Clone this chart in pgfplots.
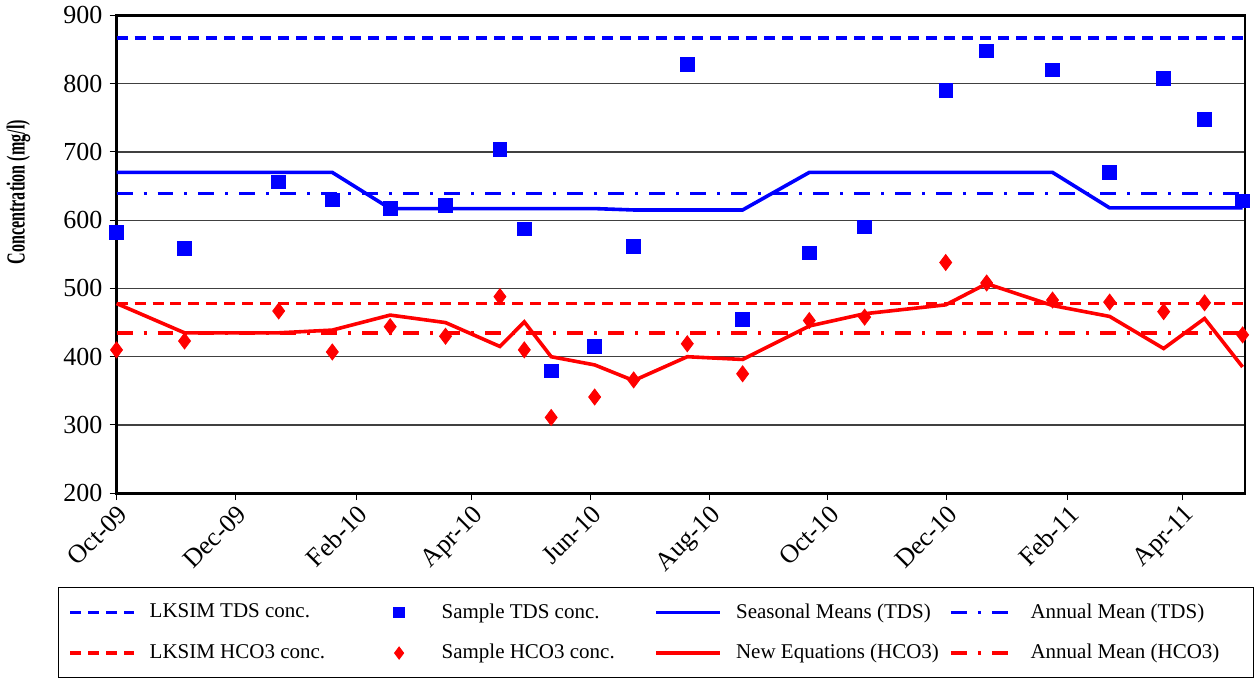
\documentclass[border=0pt]{standalone}
\usepackage{fontspec}
\setmainfont{Liberation Serif}
\usepackage{graphicx}
\usepackage{pgfplots}
\usepackage{pgfplotstable}
\pgfplotsset{compat=1.18}

% d = days since 1 Oct 2009
\pgfplotstableread{
d     tds hco3 seas neweq
0     582 410  670  478
34.9  559 423  670  435
83.2  656 467  670  435
110.7 630 407  670  439
140.4 617 444  617  461
168.8 622 430  617  450
196.7 704 488  617  415
209.2 587 410  617  451
223.0 379 311  617  400
245.3 415 341  617  388
265.3 562 366  615  365
292.8 828 419  615  400
321.2 455 375  615  396
355.4 552 453  670  445
383.8 590 458  670  463
425.4 790 538  670  476
446.4 848 508  670  507
480.2 820 483  670  475
509.5 670 480  618  459
537.2 808 466  618  412
558.2 748 479  618  456
577.7 628 432  618  385
}\samples

\definecolor{xlblue}{RGB}{0,0,255}
\definecolor{xlred}{RGB}{255,0,0}

\pgfplotsset{
    lineleg/.style={legend image code/.code={\draw[##1] (0pt,0pt) -- (32pt,0pt);}},
    markleg/.style={legend image code/.code={\path (0pt,0pt) (32pt,0pt); \path[##1, mark size=#1] plot coordinates {(18pt,0pt)};}},
}

\begin{document}
\begin{tikzpicture}
\begin{axis}[
    scale only axis,
    width=564.5pt,
    height=239pt,
    xmin=0, xmax=579,
    ymin=200, ymax=900,
    ytick={200,300,...,900},
    xtick={0,61,123,182,243,304,365,426,488,547},
    xticklabels={Oct-09,Dec-09,Feb-10,Apr-10,Jun-10,Aug-10,Oct-10,Dec-10,Feb-11,Apr-11},
    /pgf/number format/assume math mode=true,
    tick pos=left,
    tick align=outside,
    major tick length=3.5pt,
    tick style={black, line width=0.5pt},
    yticklabel style={font=\fontsize{13}{15}\selectfont},
    xticklabel style={font=\fontsize{13}{15}\selectfont, rotate=45, anchor=north east, inner sep=1pt},
    ymajorgrids,
    grid style={black!75, line width=0.7pt},
    axis line style={black, line width=1.3pt},
    ylabel={\scalebox{0.62}[1]{Concentration (mg/l)}},
    every axis y label/.style={at={(rel axis cs:-0.0868,0.63)}, rotate=90, anchor=center, font=\bfseries\fontsize{13}{15}\selectfont},
    clip=false,
    legend columns=4,
    legend style={at={(-0.052,-0.1967)}, anchor=north west, draw=black, line width=0.5pt,
        font=\fontsize{10.5}{12}\selectfont, column sep=0pt, row sep=7.5pt, inner xsep=5pt, inner ysep=6pt,
        /tikz/every odd column/.append style={column sep=5pt}},
    legend cell align=left,
    lineleg,
]
\addplot[xlblue, line width=1.7pt, dash pattern=on 5.5pt off 3.5pt] coordinates {(0,867) (579,867)};
\addlegendentry{\makebox[104.5pt][l]{LKSIM TDS conc.}}
\addplot[only marks, mark=square*, mark size=3.4pt, color=xlblue, markleg=2.6pt]
    table[x=d, y=tds] {\samples};
\addlegendentry{\makebox[104.5pt][l]{Sample TDS conc.}}
\addplot[xlblue, line width=1.8pt] table[x=d, y=seas] {\samples};
\addlegendentry{\makebox[104.5pt][l]{Seasonal Means (TDS)}}
\addplot[xlblue, line width=1.8pt, dash pattern=on 8pt off 5.5pt on 1.5pt off 5.5pt] coordinates {(0,639) (579,639)};
\addlegendentry{\makebox[104.5pt][l]{Annual Mean (TDS)}}
\addplot[xlred, line width=1.7pt, dash pattern=on 5.5pt off 3.5pt] coordinates {(0,478) (579,478)};
\addlegendentry{\makebox[104.5pt][l]{LKSIM HCO3 conc.}}
\addplot[only marks, mark=diamond*, mark size=4pt, color=xlred, markleg=3pt]
    table[x=d, y=hco3] {\samples};
\addlegendentry{\makebox[104.5pt][l]{Sample HCO3 conc.}}
\addplot[xlred, line width=1.8pt] table[x=d, y=neweq] {\samples};
\addlegendentry{\makebox[104.5pt][l]{New Equations (HCO3)}}
\addplot[xlred, line width=1.8pt, dash pattern=on 8pt off 5.5pt on 1.5pt off 5.5pt] coordinates {(0,435) (579,435)};
\addlegendentry{\makebox[104.5pt][l]{Annual Mean (HCO3)}}
\end{axis}
\end{tikzpicture}
\end{document}
